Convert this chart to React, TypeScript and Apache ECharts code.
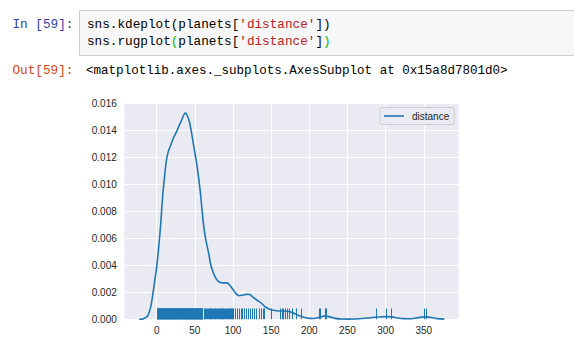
import React, { useEffect, useRef } from "react";
import * as echarts from "echarts";

// KDE curve (distance, density)
const kdeX = [-23, -18, -12, -8, -5, -2, 0, 3, 5, 8, 10, 12.5, 15, 17.7, 22, 26, 29, 33, 36, 38, 40, 43, 46, 48.3, 52.7, 57, 61, 64, 68, 71, 74.5, 78, 81, 86, 92, 96, 100, 104, 108, 113, 118, 122, 127, 131, 137, 142, 148, 153, 159, 165, 170, 175, 182, 188, 194, 200, 206, 212, 218, 222, 227, 234, 242, 250, 260, 270, 280, 290, 300, 308, 316, 324, 332, 340, 347, 353, 360, 368, 377];
const kdeY = [0, 0.00003, 0.00024, 0.0009, 0.0019, 0.0031, 0.0039, 0.0056, 0.0069, 0.0093, 0.0104, 0.0117, 0.0124, 0.0128, 0.01345, 0.0139, 0.0143, 0.0148, 0.0152, 0.01527, 0.0151, 0.0146, 0.0137, 0.0129, 0.0114, 0.0095, 0.0072, 0.006, 0.0049, 0.004, 0.0034, 0.003, 0.0028, 0.0027, 0.0027, 0.0025, 0.0022, 0.0019, 0.00175, 0.0018, 0.00185, 0.00183, 0.0016, 0.00143, 0.0012, 0.00093, 0.00075, 0.00067, 0.00062, 0.00062, 0.0006, 0.00055, 0.0004, 0.00024, 0.00013, 0.00007, 0.00006, 0.00013, 0.00022, 0.00024, 0.00018, 0.00007, 0.00002, 0.00001, 0.00002, 0.00006, 0.00012, 0.00017, 0.0002, 0.00018, 0.0001, 0.00005, 0.00004, 0.0001, 0.00016, 0.00018, 0.00013, 0.00005, 0.00001];

// Rug: individual distance observations (dense below ~60, sparse beyond)
const rugDense = [
  0.7, 1.0, 1.4, 1.7, 2.1, 2.4, 2.8, 3.1, 3.5, 3.9, 4.2, 4.6, 4.9, 5.3, 5.7, 6.0, 6.4, 6.8, 7.1, 7.5, 7.8, 8.2,
  8.6, 8.9, 9.3, 9.7, 10.0, 10.4, 10.7, 11.1, 11.5, 11.8, 12.2, 12.6, 12.9, 13.3, 13.6, 14.0, 14.4, 14.7, 15.1,
  15.5, 15.8, 16.2, 16.5, 16.9, 17.3, 17.6, 18.0, 18.4, 18.7, 19.1, 19.4, 19.8, 20.2, 20.5, 20.9, 21.3, 21.6,
  22.0, 22.3, 22.7, 23.1, 23.4, 23.8, 24.2, 24.5, 24.9, 25.2, 25.6, 26.0, 26.3, 26.7, 27.1, 27.4, 27.8, 28.1,
  28.5, 28.9, 29.2, 29.6, 30.0, 30.3, 30.7, 31.0, 31.4, 31.8, 32.1, 32.5, 32.9, 33.2, 33.6, 33.9, 34.3, 34.7,
  35.0, 35.4, 35.8, 36.1, 36.5, 36.8, 37.2, 37.6, 37.9, 38.3, 38.7, 39.0, 39.4, 39.7, 40.1, 40.5, 40.8, 41.2,
  41.6, 41.9, 42.3, 42.6, 43.0, 43.4, 43.7, 44.1, 44.5, 44.8, 45.2, 45.5, 45.9, 46.3, 46.6, 47.0, 47.4, 47.7,
  48.1, 48.4, 48.8, 49.2, 49.5, 49.9, 50.3, 50.6, 51.0, 51.3, 51.7, 52.1, 52.4, 52.8, 53.2, 53.5, 53.9, 54.2,
  54.6, 55.0, 55.3, 55.7, 56.1, 56.4, 56.8, 57.1, 57.5, 57.9, 58.2, 58.6, 59.0, 59.3, 59.7, 60.0, 60.4,
];
const rugSparse = [
  62.3, 63.2, 64.0, 65.8, 66.5, 67.4, 68.9, 70.0, 71.1, 72.4, 73.7, 74.8, 75.8, 76.5, 77.2, 78.9, 80.2, 81.6,
  82.3, 83.0, 84.2, 85.5, 86.8, 87.5, 88.0, 89.4, 90.7, 92.1, 93.1, 94.2, 95.5, 96.8, 97.4, 98.0, 99.0, 100.2,
  101.2, 102.6, 106.5, 108.6, 110.8, 113.0, 115.1, 117.8, 120.4, 123.0, 125.6, 128.3, 131.4, 134.4, 137.0,
  139.3, 141.0, 149.8, 162.4, 164.2, 166.3, 169.0, 171.5, 174.2, 178.6, 183.8, 190.4, 213.5, 215.3, 220.6,
  221.9, 287.9, 300.6, 307.5, 351.2, 353.9,
];
const rugDistances = [...rugDense, ...rugSparse];

const xTicks = [0, 50, 100, 150, 200, 250, 300, 350];

const BLUE = "#1f77b4";
const TICK = "#262626";
const SANS = "Liberation Sans, Arial, sans-serif";
const MONO = "Liberation Mono, DejaVu Sans Mono, monospace";
const MONO_SIZE = 12.7;

export default function App() {
  const ref = useRef<HTMLDivElement>(null);

  useEffect(() => {
    const chart = echarts.init(ref.current!, null, { renderer: "svg" });
    chart.setOption({
      animation: false,
      backgroundColor: "#ffffff",
      grid: {
        left: 124.3,
        top: 103.3,
        width: 334.4,
        height: 216,
        show: true,
        backgroundColor: "#EAEAF2",
        borderWidth: 0,
        containLabel: false,
      },
      legend: {
        data: ["distance"],
        left: 380,
        top: 107.5,
        orient: "vertical",
        icon: "rect",
        padding: [3.5, 5, 3.5, 4],
        itemWidth: 20,
        itemHeight: 1.6,
        backgroundColor: "#EAEAF2",
        borderColor: "#cccccc",
        borderWidth: 1,
        borderRadius: 2,
        textStyle: { fontSize: 10, fontFamily: SANS, color: TICK, padding: [0, 0, 0, 3], lineHeight: 10 },
      },
      xAxis: {
        type: "value",
        min: -42.5,
        max: 395.8,
        axisLine: { show: false },
        axisTick: { show: false, customValues: xTicks },
        axisLabel: { customValues: xTicks, fontSize: 10, fontFamily: SANS, color: TICK, margin: 6, lineHeight: 10 },
        splitLine: { show: true, lineStyle: { color: "#ffffff", width: 1 } },
      },
      yAxis: {
        type: "value",
        min: 0,
        max: 0.016,
        interval: 0.002,
        axisLine: { show: false },
        axisTick: { show: false },
        axisLabel: {
          fontSize: 10,
          fontFamily: SANS,
          color: TICK,
          margin: 7.5,
          formatter: (v: number) => v.toFixed(3),
        },
        splitLine: { show: true, lineStyle: { color: "#ffffff", width: 1 } },
      },
      series: [
        {
          name: "distance",
          type: "line",
          data: kdeX.map((x, i) => [x, kdeY[i]]),
          smooth: 0.3,
          symbol: "none",
          color: BLUE,
          lineStyle: { color: BLUE, width: 1.6 },
          z: 3,
        },
        {
          name: "rug",
          type: "custom",
          data: rugDistances.map((d) => [d, 0]),
          encode: { x: 0, y: 1 },
          progressive: 0,
          silent: true,
          z: 2,
          renderItem: (params: any, api: any) => {
            const p = api.coord([api.value(0), 0]);
            const h = params.coordSys.height * 0.05;
            return {
              type: "rect",
              shape: { x: Math.floor(p[0]), y: p[1] - h, width: 1, height: h },
              style: { fill: BLUE, stroke: null, opacity: 1 },
            };
          },
        },
      ],
      graphic: [
        {
          type: "rect",
          shape: { x: 79.5, y: 10.5, width: 520, height: 45 },
          style: { fill: "#f7f7f7", stroke: "#cfcfcf", lineWidth: 1 },
        },
        {
          type: "text",
          x: 12.5,
          y: 24.3,
          style: { text: "In [59]:", fill: "#303F9F", fontSize: MONO_SIZE, fontFamily: MONO, verticalAlign: "middle" },
        },
        {
          type: "text",
          x: 87,
          y: 24.3,
          style: {
            text: "{n|sns.kdeplot(planets[}{s|'distance'}{n|])}",
            fontSize: MONO_SIZE,
            fontFamily: MONO,
            verticalAlign: "middle",
            rich: {
              n: { fill: "#000000", fontSize: MONO_SIZE, fontFamily: MONO },
              s: { fill: "#BA2121", fontSize: MONO_SIZE, fontFamily: MONO },
            },
          },
        },
        {
          type: "text",
          x: 87,
          y: 41.3,
          style: {
            text: "{n|sns.rugplot}{g|(}{n|planets[}{s|'distance'}{n|]}{g|)}",
            fontSize: MONO_SIZE,
            fontFamily: MONO,
            verticalAlign: "middle",
            rich: {
              n: { fill: "#000000", fontSize: MONO_SIZE, fontFamily: MONO },
              s: { fill: "#BA2121", fontSize: MONO_SIZE, fontFamily: MONO },
              g: { fill: "#00bb00", fontSize: MONO_SIZE, fontFamily: MONO },
            },
          },
        },
        {
          type: "text",
          x: 12.5,
          y: 70.6,
          style: { text: "Out[59]:", fill: "#D84315", fontSize: MONO_SIZE, fontFamily: MONO, verticalAlign: "middle" },
        },
        {
          type: "text",
          x: 86,
          y: 70.6,
          style: {
            text: "<matplotlib.axes._subplots.AxesSubplot at 0x15a8d7801d0>",
            fill: "#000000",
            fontSize: 12.55,
            fontFamily: MONO,
            verticalAlign: "middle",
          },
        },
      ],
    });
    return () => chart.dispose();
  }, []);

  return (
    <div
      ref={ref}
      style={{ position: "absolute", left: 0, top: 0, width: 574, height: 352, background: "#ffffff" }}
    />
  );
}
